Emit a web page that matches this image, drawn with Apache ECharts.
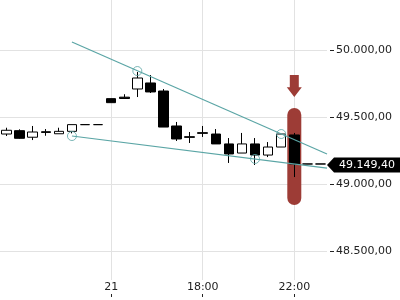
<!DOCTYPE html>
<html><head><meta charset="utf-8">
<script src="https://cdn.jsdelivr.net/npm/echarts@6/dist/echarts.min.js"></script>
<style>html,body{margin:0;padding:0;background:#fff}#c{width:400px;height:300px}</style>
</head><body><div id="c"></div>
<script>
// ---- data ----
const categories = ['', '', '', '', '', '', '', '', '21', '', '', '', '', '', '', '18:00', '', '', '', '', '', '', '22:00', '', ''];
const opens  = [49373, 49398, 49349, 49390, 49375, 49393, 49443, 49443, 49637, 49648, 49709, 49754, 49694, 49433, 49353, 49383, 49373, 49299, 49231, 49299, 49216, 49276, 49366, 49149.4, 49149.4];
const closes = [49401, 49341, 49388, 49385, 49393, 49443, 49443, 49443, 49607, 49638, 49791, 49687, 49425, 49336, 49348, 49378, 49299, 49224, 49299, 49216, 49276, 49373, 49149.4, 49149.4, 49149.4];
const lows   = [49358, 49338, 49328, 49360, 49375, 49378, 49443, 49443, 49607, 49638, 49649, 49679, 49425, 49321, 49306, 49351, 49299, 49157, 49231, 49142, 49201, 49276, 49052, 49149.4, 49149.4];
const highs  = [49420, 49408, 49433, 49410, 49420, 49443, 49443, 49443, 49637, 49670, 49836, 49813, 49709, 49463, 49388, 49433, 49410, 49343, 49381, 49343, 49313, 49380, 49381, 49149.4, 49149.4];
const upperTrend = [[5, 50060], [24.5, 49224]];
const lowerTrend = [[5, 49358], [24.5, 49119]];
const trendPoints = [[10, 49843], [21, 49373], [5, 49358], [19, 49187]];
const highlightRange = [[22, 49567, 48843]];
const arrowRange = [[22, 49813, 49649]];
const lastPrice = [[24, 49149.4]];
const yTickValues = [48500, 49000, 49500, 50000];
const yMin = 48000, yMax = 50500, yStep = 500;

// ---- helpers ----
function fmtDE(v) {
  const s = Number(v).toFixed(2);
  const parts = s.split('.');
  const intPart = parts[0].replace(/\B(?=(\d{3})+(?!\d))/g, '.');
  return intPart + ',' + parts[1];
}
const FONT = 'DejaVu Sans';
const TEAL = '#5aa5a5';
const RED = '#9d3c36';
const GRIDC = '#e2e2e2';
const N = categories.length;
const gridW = 327;
const band = gridW / N;
const labelShown = (idx) => categories[idx] !== '';

const chart = echarts.init(document.getElementById('c'), null, {renderer: 'canvas'});
chart.setOption({
  animation: false,
  backgroundColor: '#fff',
  grid: [
    {left: 0, width: gridW, top: -17, height: 335, containLabel: false, outerBoundsMode: 'none'},
    {left: band / 2, width: gridW - band, top: 0, height: 280, containLabel: false, outerBoundsMode: 'none'}
  ],
  xAxis: [
    {type: 'category', gridIndex: 0, data: categories, boundaryGap: true, show: false},
    {type: 'value', gridIndex: 0, min: -0.5, max: N - 0.5, show: false},
    {type: 'category', gridIndex: 1, data: categories, boundaryGap: false, position: 'bottom',
      axisLine: {show: false}, axisTick: {show: false},
      axisLabel: {interval: labelShown, margin: 2, color: '#222', fontSize: 11, fontFamily: FONT},
      splitLine: {show: true, interval: labelShown, lineStyle: {color: GRIDC, width: 1}}},
    {type: 'category', gridIndex: 1, data: categories, boundaryGap: false, position: 'bottom', offset: 14,
      axisLine: {show: false}, axisLabel: {show: false},
      axisTick: {show: true, interval: labelShown, length: 3, lineStyle: {color: '#222'}},
      splitLine: {show: false}}
  ],
  yAxis: [
    {type: 'value', gridIndex: 0, position: 'right', min: yMin, max: yMax, interval: yStep,
      axisLine: {show: false},
      axisTick: {show: false},
      axisLabel: {formatter: fmtDE, margin: 9, color: '#222', fontSize: 11, fontFamily: FONT},
      splitLine: {show: true, lineStyle: {color: GRIDC, width: 1}}},
    {type: 'value', gridIndex: 1, show: false}
  ],
  series: [
    {type: 'custom', xAxisIndex: 0, yAxisIndex: 0, z: 1, data: highlightRange,
      renderItem: function (params, api) {
        const p1 = api.coord([api.value(0), api.value(1)]);
        const p2 = api.coord([api.value(0), api.value(2)]);
        return {type: 'rect', shape: {x: p1[0] - 7, y: p1[1], width: 14, height: p2[1] - p1[1], r: 7},
          style: {fill: RED}};
      }},
    {type: 'candlestick', xAxisIndex: 0, yAxisIndex: 0, z: 3, barWidth: 10,
      data: opens.map((o, i) => [o, closes[i], lows[i], highs[i]]),
      itemStyle: {color: '#fff', color0: '#000', borderColor: '#000', borderColor0: '#000', borderColorDoji: '#000', borderWidth: 1}},
    {type: 'line', xAxisIndex: 1, yAxisIndex: 0, z: 4, data: upperTrend, symbol: 'none',
      lineStyle: {color: TEAL, width: 1.2}},
    {type: 'line', xAxisIndex: 1, yAxisIndex: 0, z: 4, data: lowerTrend, symbol: 'none',
      lineStyle: {color: TEAL, width: 1.2}},
    {type: 'scatter', xAxisIndex: 1, yAxisIndex: 0, z: 5, data: trendPoints, symbol: 'circle', symbolSize: 9,
      itemStyle: {color: 'rgba(255,255,255,0)', borderColor: TEAL, borderWidth: 1, opacity: 0.8}},
    {type: 'custom', xAxisIndex: 0, yAxisIndex: 0, z: 5, data: arrowRange,
      renderItem: function (params, api) {
        const p1 = api.coord([api.value(0), api.value(1)]);
        const p2 = api.coord([api.value(0), api.value(2)]);
        const cx = p1[0], top = p1[1], bot = p2[1];
        const mid = top + 0.55 * (bot - top);
        return {type: 'polygon', shape: {points: [
          [cx - 4.5, top], [cx + 4.5, top], [cx + 4.5, mid], [cx + 7.5, mid],
          [cx, bot], [cx - 7.5, mid], [cx - 4.5, mid]]}, style: {fill: RED}};
      }},
    {type: 'custom', xAxisIndex: 0, yAxisIndex: 0, z: 5, clip: false, data: yTickValues.map(v => [0, v]),
      renderItem: function (params, api) {
        const p = api.coord([0, api.value(1)]);
        const x0 = params.coordSys.x + params.coordSys.width;
        const y = Math.round(p[1]) + 0.5;
        return {type: 'line', shape: {x1: x0 + 3, y1: y, x2: x0 + 7, y2: y},
          style: {stroke: '#222', lineWidth: 1}};
      }},
    {type: 'custom', xAxisIndex: 0, yAxisIndex: 0, z: 6, clip: false, data: lastPrice,
      renderItem: function (params, api) {
        const p = api.coord([api.value(0), api.value(1)]);
        const x0 = params.coordSys.x + params.coordSys.width;
        const y = p[1] + 1;
        const W = api.getWidth();
        return {type: 'group', children: [
          {type: 'polygon', shape: {points: [[x0, y], [x0 + 7, y - 7.5], [W, y - 7.5], [W, y + 7.5], [x0 + 7, y + 7.5]]},
            style: {fill: '#000'}},
          {type: 'text', style: {x: x0 + 12, y: y, text: fmtDE(api.value(1)), fill: '#fff',
            font: '11px "' + FONT + '"', verticalAlign: 'middle', align: 'left'}}
        ]};
      }}
  ]
});
</script>
</body></html>
